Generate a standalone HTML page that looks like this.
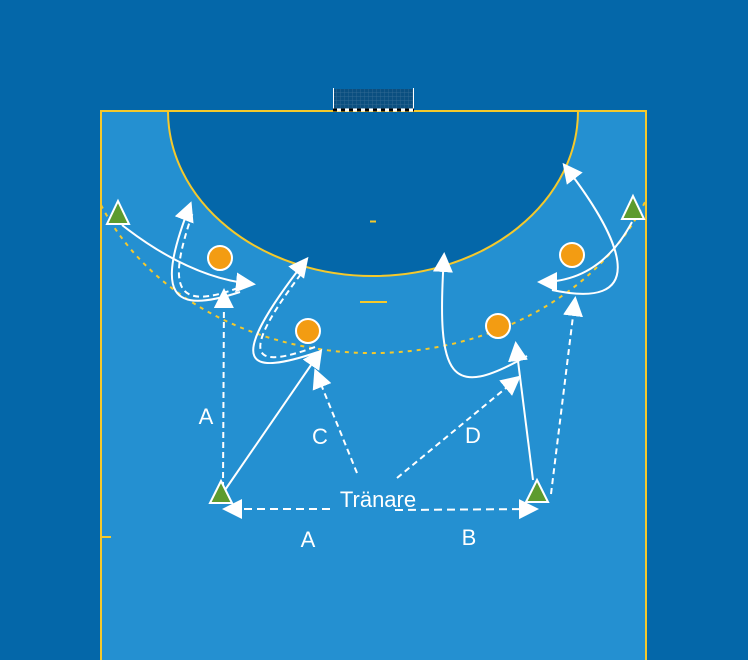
<!DOCTYPE html>
<html><head><style>html,body{margin:0;padding:0;background:#0467a9;}svg{display:block}</style></head><body>
<svg width="748" height="660" viewBox="0 0 748 660" xmlns="http://www.w3.org/2000/svg" font-family="Liberation Sans, sans-serif">
<defs>
<marker id="ah" markerUnits="userSpaceOnUse" markerWidth="24" markerHeight="24" refX="16" refY="10" orient="auto"><path d="M0,0 L20,10 L0,20 Z" fill="#fff"/></marker>
<pattern id="net" width="4" height="4" patternUnits="userSpaceOnUse"><path d="M0,0 H4 M0,0 V4" stroke="#3a6f98" stroke-width="0.7"/></pattern>
</defs>
<rect width="748" height="660" fill="#0467a9"/>
<rect x="101" y="111" width="545" height="560" fill="#2490d1" stroke="#f5c92b" stroke-width="2"/>
<path d="M168 111 A205 165 0 0 0 578 111 Z" fill="#0467a9" stroke="#f5c92b" stroke-width="2"/>
<path d="M101 205 A295 244 0 0 0 646 200" fill="none" stroke="#f5c92b" stroke-width="2" stroke-dasharray="4 5"/>
<rect x="333" y="89" width="81" height="20" fill="#0b4f80"/>
<rect x="333" y="89" width="81" height="20" fill="url(#net)"/>
<line x1="333.5" y1="88" x2="333.5" y2="110" stroke="#fff"/><line x1="413.5" y1="88" x2="413.5" y2="110" stroke="#fff"/>
<line x1="333" y1="110" x2="414" y2="110" stroke="#000" stroke-width="3"/>
<line x1="333" y1="110" x2="414" y2="110" stroke="#fff" stroke-width="3" stroke-dasharray="4 4" stroke-dashoffset="-4"/>
<line x1="370" y1="221.5" x2="376" y2="221.5" stroke="#f5c92b" stroke-width="2"/>
<line x1="360" y1="302" x2="387" y2="302" stroke="#f5c92b" stroke-width="2"/>
<line x1="101" y1="537" x2="111" y2="537" stroke="#f5c92b" stroke-width="2"/>
<g fill="none" stroke="#fff" stroke-width="2">
<path d="M122 225 Q190 278 252 284" marker-end="url(#ah)"/>
<path d="M240 292 C170 315, 155 295, 190 205" marker-end="url(#ah)"/>
<path d="M238 288 C178 310, 165 292, 193 212" stroke-dasharray="6 4"/>
<path d="M223 488 L224 292" stroke-dasharray="6 4" marker-end="url(#ah)"/>
<path d="M225 490 L320 352" marker-end="url(#ah)"/>
<path d="M318 352 C250 375, 220 370, 306 260" marker-end="url(#ah)"/>
<path d="M315 347 C257 368, 233 363, 304 270" stroke-dasharray="6 4"/>
<path d="M357 473 L316 372" stroke-dasharray="6 4" marker-end="url(#ah)"/>
<path d="M397 478 L518 378" stroke-dasharray="6 4" marker-end="url(#ah)"/>
<path d="M533 480 L516 345" marker-end="url(#ah)"/>
<path d="M527 356 C450 400, 436 380, 444 256" marker-end="url(#ah)"/>
<path d="M551 494 L575 300" stroke-dasharray="6 4" marker-end="url(#ah)"/>
<path d="M632 222 Q600 282 541 282" marker-end="url(#ah)"/>
<path d="M552 290 C645 310, 630 250, 565 166" marker-end="url(#ah)"/>
<path d="M330 509 L226 509" stroke-dasharray="8 5" marker-end="url(#ah)"/>
<path d="M395 510 L535 509" stroke-dasharray="8 5" marker-end="url(#ah)"/>
</g>
<g fill="#f39c12" stroke="#fff" stroke-width="2">
<circle cx="220" cy="258" r="12"/><circle cx="308" cy="331" r="12"/><circle cx="498" cy="326" r="12"/><circle cx="572" cy="255" r="12"/>
</g>
<g fill="#5d9b2e" stroke="#fff" stroke-width="2">
<path d="M118 201 L129 224 L107 224 Z"/><path d="M221 481 L232 503 L210 503 Z"/><path d="M537 480 L548 502 L526 502 Z"/><path d="M633 196 L644 219 L622 219 Z"/>
</g>
<g fill="#fff" font-size="22" text-anchor="middle">
<text x="206" y="424">A</text><text x="320" y="444">C</text><text x="473" y="443">D</text>
<text x="378" y="507">Tränare</text><text x="308" y="547">A</text><text x="469" y="545">B</text>
</g>
</svg>
</body></html>
